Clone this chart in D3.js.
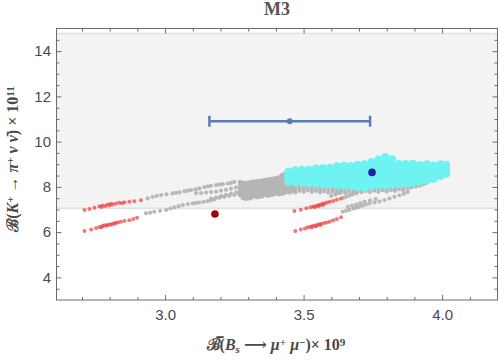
<!DOCTYPE html>
<html>
<head>
<meta charset="utf-8">
<script src="https://cdn.jsdelivr.net/npm/d3@7"></script>
<style>
  body { margin: 0; background: #fff; }
  svg { display: block; }
</style>
</head>
<body>
<svg id="chart" width="500" height="361"></svg>
<script>
// ---- data ----
const xMajorTicks = [3.0, 3.5, 4.0];
const xMinorTicks = [2.7, 2.8, 2.9, 3.1, 3.2, 3.3, 3.4, 3.6, 3.7, 3.8, 3.9, 4.1];
const yMajorTicks = [4, 6, 8, 10, 12, 14];
const yMinorTicks = [3.5, 4.5, 5, 5.5, 6.5, 7, 7.5, 8.5, 9, 9.5, 10.5, 11, 11.5, 12.5, 13, 13.5, 14.5];

const band = [7.05, 14.78]; // allowed range, shaded
const measurement = { x: 3.45, xLo: 3.16, xHi: 3.74, y: 10.9 };
const smPoint = [3.18, 6.8];
const bestPoint = [3.747, 8.64];

const redLeftUpper = [[2.709,6.98],[2.727,7.02],[2.745,7.08],[2.763,7.14],[2.770,7.11],[2.775,7.18],[2.785,7.16],[2.793,7.22],[2.800,7.19],[2.805,7.25],[2.812,7.22],[2.823,7.27],[2.835,7.30],[2.845,7.28],[2.853,7.32],[2.871,7.34],[2.889,7.36],[2.913,7.41]];
const redLeftLower = [[2.709,6.05],[2.733,6.12],[2.751,6.18],[2.763,6.23],[2.770,6.21],[2.774,6.27],[2.781,6.30],[2.788,6.28],[2.792,6.32],[2.799,6.34],[2.805,6.33],[2.811,6.38],[2.818,6.37],[2.822,6.41],[2.829,6.43],[2.840,6.46],[2.853,6.49],[2.871,6.53],[2.885,6.58],[2.899,6.64]];
const redRightUpper = [[3.467,6.93],[3.490,6.99],[3.510,7.05],[3.525,7.10],[3.535,7.13],[3.540,7.10],[3.545,7.16],[3.553,7.19],[3.555,7.15],[3.561,7.22],[3.569,7.25],[3.570,7.20],[3.577,7.28],[3.585,7.31],[3.595,7.34],[3.607,7.38],[3.620,7.43],[3.635,7.49]];
const redRightLower = [[3.470,6.05],[3.490,6.12],[3.505,6.16],[3.515,6.21],[3.525,6.24],[3.530,6.21],[3.533,6.27],[3.541,6.29],[3.545,6.26],[3.549,6.32],[3.557,6.35],[3.560,6.31],[3.565,6.37],[3.575,6.40],[3.585,6.43],[3.595,6.47],[3.607,6.52],[3.620,6.58],[3.635,6.66]];

const grayLeftUpper = [[2.937,7.49],[2.955,7.56],[2.970,7.60],[2.986,7.64],[3.005,7.67],[3.027,7.71],[3.040,7.74],[3.052,7.76],[3.070,7.81],[3.082,7.83],[3.094,7.86],[3.110,7.89],[3.124,7.93],[3.142,7.99],[3.155,8.02],[3.166,8.05],[3.184,8.08],[3.196,8.10],[3.208,8.12],[3.226,8.15],[3.238,8.18],[3.250,8.22],[3.112,7.72],[3.130,7.73],[3.148,7.75],[3.166,7.77],[3.184,7.79],[3.202,7.83],[3.220,7.87],[3.238,7.92],[3.256,7.97]];
const grayLeftLower = [[2.931,6.83],[2.946,6.86],[2.961,6.90],[2.982,6.94],[3.004,6.98],[3.019,7.04],[3.034,7.09],[3.049,7.15],[3.064,7.20],[3.082,7.24],[3.100,7.27],[3.112,7.29],[3.124,7.31],[3.139,7.34],[3.154,7.37],[3.166,7.41],[3.178,7.45],[3.196,7.52],[3.214,7.56],[3.232,7.60],[3.250,7.64],[3.268,7.68],[3.166,7.48],[3.184,7.53],[3.202,7.59],[3.220,7.65],[3.238,7.70],[3.256,7.75]];
// broad gray band, one entry per column: [x, [y...]]
const grayMid = [
  [3.27, [7.62, 7.74, 7.86, 7.98, 8.10, 8.22]],
  [3.28, [7.50, 7.62, 7.74, 7.86, 7.98, 8.10, 8.20]],
  [3.29, [7.46, 7.58, 7.70, 7.82, 7.94, 8.06, 8.17]],
  [3.30, [7.48, 7.60, 7.72, 7.84, 7.96, 8.08, 8.20]],
  [3.31, [7.50, 7.62, 7.74, 7.86, 7.98, 8.10, 8.22]],
  [3.32, [7.57, 7.69, 7.81, 7.93, 8.05, 8.17, 8.24]],
  [3.33, [7.53, 7.65, 7.77, 7.89, 8.01, 8.13, 8.25]],
  [3.34, [7.55, 7.67, 7.79, 7.91, 8.03, 8.15, 8.27]],
  [3.35, [7.57, 7.69, 7.81, 7.93, 8.05, 8.17, 8.29]],
  [3.36, [7.64, 7.76, 7.88, 8.00, 8.12, 8.24, 8.31]],
  [3.37, [7.60, 7.72, 7.84, 7.96, 8.08, 8.20, 8.33]],
  [3.38, [7.62, 7.74, 7.86, 7.98, 8.10, 8.22, 8.35]],
  [3.39, [7.64, 7.76, 7.88, 8.00, 8.12, 8.24, 8.37]],
  [3.40, [7.70, 7.82, 7.94, 8.06, 8.18, 8.30, 8.40]],
  [3.41, [7.67, 7.79, 7.91, 8.03, 8.15, 8.28, 8.42]],
  [3.42, [7.69, 7.81, 7.93, 8.05, 8.17, 8.30, 8.44, 8.52]],
  [3.43, [7.71, 7.83, 7.95, 8.07, 8.19, 8.32, 8.46, 8.58]],
  [3.44, [7.77, 7.89, 8.01, 8.13, 8.25]],
  [3.45, [7.74, 7.86, 7.98, 8.10]],
  [3.46, [7.80, 7.92, 8.04, 8.14]],
  [3.47, [7.76, 7.88, 8.00, 8.12]],
  [3.485, [7.82, 7.94, 8.06]],
  [3.50, [7.78, 7.90, 8.02, 8.12]],
  [3.515, [7.84, 7.96, 8.06]],
  [3.53, [7.78, 7.90, 8.02, 8.10]],
  [3.545, [7.82, 7.94, 8.04]],
  [3.56, [7.76, 7.88, 8.00, 8.08]],
  [3.575, [7.81, 7.93, 8.03]],
  [3.59, [7.75, 7.87, 7.99, 8.06]],
  [3.605, [7.79, 7.91, 8.01]],
  [3.62, [7.73, 7.85, 7.97, 8.05]],
  [3.635, [7.78, 7.90, 8.00]],
  [3.65, [7.72, 7.84, 7.96, 8.04]],
  [3.665, [7.79, 7.90]],
  [3.68, [7.74, 7.86, 7.96]],
  [3.695, [7.80, 7.92]],
  [3.71, [7.76, 7.87]],
  [3.725, [7.82, 7.93]],
  [3.74, [7.77, 7.88, 7.98]],
  [3.755, [7.83, 7.94]],
  [3.77, [7.78, 7.90, 8.00]],
  [3.785, [7.85, 7.96]],
  [3.80, [7.80, 7.92, 8.04]],
  [3.815, [7.86, 7.98, 8.08]],
  [3.83, [7.82, 7.94, 8.06, 8.14]],
  [3.845, [7.90, 8.02, 8.12]],
  [3.86, [7.84, 7.96, 8.08, 8.18]],
  [3.875, [7.92, 8.04, 8.16]],
  [3.89, [7.98, 8.10, 8.22]],
  [3.905, [8.02, 8.14, 8.26]],
  [3.92, [8.05, 8.17, 8.30]],
  [3.93, [8.11, 8.23]],
  [3.94, [8.16, 8.28]]
];
const grayRightUpper = [[3.645,7.52],[3.655,7.57],[3.665,7.62],[3.675,7.66],[3.690,7.71],[3.600,7.60],[3.615,7.66],[3.630,7.72]];
const grayRightLower = [[3.641,6.90],[3.653,6.94],[3.665,6.98],[3.680,7.04],[3.690,7.08],[3.700,7.12],[3.712,7.17],[3.725,7.22],[3.738,7.27],[3.756,7.31],[3.774,7.35],[3.792,7.42],[3.810,7.49],[3.828,7.56],[3.846,7.63],[3.862,7.70],[3.876,7.77],[3.660,7.12],[3.675,7.17],[3.690,7.22],[3.705,7.28],[3.720,7.34],[3.740,7.40],[3.760,7.46]];

const cyanCols = [
  [3.445, [8.22, 8.37, 8.52, 8.67]],
  [3.470, [8.20, 8.35, 8.50, 8.65, 8.74]],
  [3.495, [8.18, 8.33, 8.48, 8.63, 8.76]],
  [3.520, [8.16, 8.31, 8.46, 8.61, 8.76]],
  [3.545, [8.14, 8.29, 8.44, 8.59, 8.74, 8.82]],
  [3.570, [8.12, 8.27, 8.42, 8.57, 8.72, 8.84]],
  [3.595, [8.10, 8.25, 8.40, 8.55, 8.70, 8.85]],
  [3.620, [8.08, 8.23, 8.38, 8.53, 8.68, 8.83, 8.92]],
  [3.645, [8.06, 8.21, 8.36, 8.51, 8.66, 8.81, 8.94]],
  [3.670, [8.03, 8.18, 8.33, 8.48, 8.63, 8.78, 8.93]],
  [3.695, [7.98, 8.13, 8.28, 8.43, 8.58, 8.73, 8.88, 8.98]],
  [3.720, [7.95, 8.10, 8.25, 8.40, 8.55, 8.70, 8.85, 9.00]],
  [3.745, [8.03, 8.18, 8.33, 8.48, 8.63, 8.78, 8.93, 9.10]],
  [3.770, [8.06, 8.21, 8.36, 8.51, 8.66, 8.81, 8.96, 9.08, 9.21]],
  [3.795, [8.08, 8.23, 8.38, 8.53, 8.68, 8.83, 8.98, 9.10, 9.33]],
  [3.820, [8.10, 8.25, 8.40, 8.55, 8.70, 8.85, 9.00, 9.22]],
  [3.845, [8.12, 8.27, 8.42, 8.57, 8.72, 8.87, 9.02]],
  [3.870, [8.14, 8.29, 8.44, 8.59, 8.74, 8.89, 9.02]],
  [3.895, [8.18, 8.33, 8.48, 8.63, 8.78, 8.93, 9.03]],
  [3.920, [8.22, 8.37, 8.52, 8.67, 8.82, 8.97]],
  [3.945, [8.28, 8.43, 8.58, 8.73, 8.88, 9.00]],
  [3.970, [8.35, 8.50, 8.65, 8.80, 8.95]],
  [3.995, [8.48, 8.62, 8.76, 8.90, 9.00]],
  [4.015, [8.58, 8.72, 8.86, 8.98]]
];

// ---- layout ----
const svg = d3.select("#chart");
const plotL = 56.5, plotR = 497.5, plotT = 28.5, plotB = 300;
const x = d3.scaleLinear().domain([2.608, 4.2]).range([plotL, plotR]);
const y = d3.scaleLinear().domain([3, 15]).range([plotB, plotT]);
const frameColor = "#6b6b6b";
const labelFont = "'Liberation Sans', Arial, sans-serif";
const mathFont = "'Liberation Serif', 'DejaVu Serif', serif";

const flatCols = (cols) => cols.flatMap(([cx, ys]) => ys.map((v) => [cx, v]));

// shaded band
svg.append("rect")
  .attr("x", plotL).attr("width", plotR - plotL)
  .attr("y", y(band[1])).attr("height", y(band[0]) - y(band[1]))
  .attr("fill", "#f3f3f3");
[band[0], band[1]].forEach((b) => {
  svg.append("line")
    .attr("x1", plotL).attr("x2", plotR)
    .attr("y1", y(b)).attr("y2", y(b))
    .attr("stroke", "#e2e2e2").attr("stroke-width", 1.6);
});

// scatter layers
function dots(data, r, fill, opacity) {
  svg.append("g").selectAll("circle").data(data).join("circle")
    .attr("cx", (d) => x(d[0]))
    .attr("cy", (d) => y(d[1]))
    .attr("r", r)
    .attr("fill", fill)
    .attr("fill-opacity", opacity);
}
const grayAll = [...grayLeftUpper, ...grayLeftLower, ...flatCols(grayMid), ...grayRightUpper, ...grayRightLower];
dots(grayAll, 2.1, "#b2b2b2", 0.9);
dots([...redLeftUpper, ...redLeftLower, ...redRightUpper, ...redRightLower], 2.0, "#f04848", 0.75);
dots(flatCols(cyanCols), 3.9, "#6ff2f2", 1);

// error bar
const eb = svg.append("g").attr("stroke", "#5a7db4").attr("stroke-width", 2.5);
eb.append("line").attr("x1", x(measurement.xLo)).attr("x2", x(measurement.xHi))
  .attr("y1", y(measurement.y)).attr("y2", y(measurement.y));
[measurement.xLo, measurement.xHi].forEach((v) => {
  eb.append("line").attr("x1", x(v)).attr("x2", x(v))
    .attr("y1", y(measurement.y) - 5.5).attr("y2", y(measurement.y) + 5.5);
});
svg.append("circle").attr("cx", x(measurement.x)).attr("cy", y(measurement.y))
  .attr("r", 3).attr("fill", "#5a7db4");

// highlighted points
svg.append("circle").attr("cx", x(smPoint[0])).attr("cy", y(smPoint[1]))
  .attr("r", 3.8).attr("fill", "#a80000");
svg.append("circle").attr("cx", x(bestPoint[0])).attr("cy", y(bestPoint[1]))
  .attr("r", 3.8).attr("fill", "#2020b0");

// frame + ticks on all four sides, pointing inward
function styleAxis(g, showLabels) {
  g.select(".domain").remove();
  g.selectAll("line").attr("stroke", frameColor);
  g.selectAll("text")
    .attr("fill", "#4a4a4a")
    .attr("font-family", labelFont)
    .attr("font-size", 15)
    .style("display", showLabels ? null : "none");
}
const axes = [
  [d3.axisBottom(x).tickValues(xMajorTicks).tickFormat(d3.format(".1f")).tickSize(-5).tickPadding(9), `translate(0,${plotB})`, true],
  [d3.axisBottom(x).tickValues(xMinorTicks).tickSize(-3).tickFormat(""), `translate(0,${plotB})`, false],
  [d3.axisTop(x).tickValues(xMajorTicks).tickSize(-5), `translate(0,${plotT})`, false],
  [d3.axisTop(x).tickValues(xMinorTicks).tickSize(-3), `translate(0,${plotT})`, false],
  [d3.axisLeft(y).tickValues(yMajorTicks).tickSize(-5).tickPadding(5.5), `translate(${plotL},0)`, true],
  [d3.axisLeft(y).tickValues(yMinorTicks).tickSize(-3).tickFormat(""), `translate(${plotL},0)`, false],
  [d3.axisRight(y).tickValues(yMajorTicks).tickSize(-5), `translate(${plotR},0)`, false],
  [d3.axisRight(y).tickValues(yMinorTicks).tickSize(-3), `translate(${plotR},0)`, false]
];
axes.forEach(([axis, tf, lab]) => {
  svg.append("g").attr("transform", tf).call(axis).call((g) => styleAxis(g, lab));
});
svg.append("rect")
  .attr("x", plotL).attr("y", plotT)
  .attr("width", plotR - plotL).attr("height", plotB - plotT)
  .attr("fill", "none").attr("stroke", frameColor).attr("stroke-width", 1);

// title
svg.append("text")
  .attr("x", 277).attr("y", 15)
  .attr("text-anchor", "middle")
  .attr("font-family", mathFont).attr("font-weight", "bold").attr("font-size", 18)
  .attr("fill", "#555").text("M3");

// axis titles built from pieces: [text, italic?, shift]  shift: 0 normal, 1 sup, -1 sub
function richText(sel, parts) {
  parts.forEach(([t, it, shift]) => {
    const ts = sel.append("tspan").text(t);
    if (it) ts.attr("font-style", "italic");
    if (shift) {
      ts.attr("font-size", "70%")
        .attr("baseline-shift", shift > 0 ? "40%" : "-25%");
    }
  });
}
const xTitle = svg.append("text")
  .attr("x", 276).attr("y", 350)
  .attr("text-anchor", "middle")
  .attr("font-family", mathFont).attr("font-weight", "bold").attr("font-size", 16)
  .attr("fill", "#4a4a4a");
richText(xTitle, [["\u212C\u0305(", false, 0], ["B", true, 0], ["s", true, -1], [" \u27F6 ", false, 0],
  ["\u03BC", true, 0], ["+", false, 1], [" \u03BC", true, 0], ["\u2212", false, 1], [")\u00D7 10", false, 0], ["9", false, 1]]);

const yTitle = svg.append("text")
  .attr("transform", "translate(17.5,159) rotate(-90)")
  .attr("text-anchor", "middle")
  .attr("font-family", mathFont).attr("font-weight", "bold").attr("font-size", 16)
  .attr("fill", "#4a4a4a");
richText(yTitle, [["\u212C(", false, 0], ["K", true, 0], ["+", false, 1], [" \u2192 ", false, 0],
  ["\u03C0", true, 0], ["+", false, 1], [" \u03BD ", true, 0], ["\u03BD\u0304", true, 0], [") \u00D7 10", false, 0], ["11", false, 1]]);
</script>
</body>
</html>
